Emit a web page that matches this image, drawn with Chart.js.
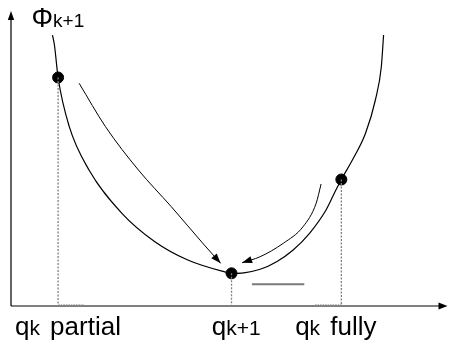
<!DOCTYPE html>
<html><head><meta charset="utf-8">
<script src="https://cdn.jsdelivr.net/npm/chart.js@4"></script>
<style>html,body{margin:0;padding:0;background:#fff}#wrap{width:454px;height:341px}</style>
</head><body><div id="wrap"><canvas id="c" width="454" height="341"></canvas></div>
<script>
// Main U-shaped curve (q on x, Φ on y, arbitrary units 0..10)
const curveX = [0.950, 0.995, 1.079, 1.335, 1.787, 2.541, 3.296, 4.050, 4.880, 5.052, 5.333, 5.708, 6.086, 6.464, 6.839, 7.217, 7.443, 7.568, 7.821, 8.122, 8.348, 8.484, 8.536];
const curveY = [9.186, 8.847, 7.746, 6.078, 4.610, 3.142, 2.180, 1.559, 1.163, 1.108, 1.125, 1.244, 1.502, 1.898, 2.464, 3.254, 3.932, 4.288, 4.949, 5.854, 6.983, 8.112, 9.186];
// Marked points: q_k partial, q_k+1, q_k fully
const markerX = [1.079, 5.052, 7.568];
const markerY = [7.746, 1.108, 4.288];
// Curved arrows (left: tip is last point; right: tip is first point)
const leftArrowX = [1.561, 2.165, 2.919, 3.672, 4.428, 4.803];
const leftArrowY = [7.549, 6.078, 4.610, 3.366, 2.068, 1.447];
const rightArrowX = [5.294, 5.708, 6.237, 6.690, 6.991, 7.104];
const rightArrowY = [1.468, 1.671, 2.125, 2.688, 3.481, 4.136];
// Short horizontal segment
const flatLineX = [5.520, 6.719];
const flatLineY = [0.736, 0.736];
// Short dotted marks on the q axis
const axisMarkAX = [1.086, 1.674];
const axisMarkBX = [6.968, 7.579];
// Text labels
const labelX = [0.09, 4.60, 6.51, 0.47];
const labelY = [-0.98, -0.98, -0.98, 9.45];
const labelMain = ['q', 'q', 'q', 'Φ'];
const labelSub = ['k', 'k+1', 'k', 'k+1'];
const labelTail = [' partial', '', ' fully', ''];

const pts = (xs, ys) => xs.map((x, i) => ({x, y: ys[i]}));
const FONT = '"Liberation Sans", Arial, sans-serif';

const dotted = [];
markerX.forEach((x, i) => dotted.push({
  data: [{x, y: markerY[i]}, {x, y: 0}],
  showLine: true, borderColor: '#808080', borderWidth: 1.3, borderDash: [2, 1.5],
  pointRadius: 0, tension: 0
}));
[axisMarkAX, axisMarkBX].forEach(xs => dotted.push({
  data: [{x: xs[0], y: 0.04}, {x: xs[1], y: 0.04}],
  showLine: true, borderColor: '#9a9a9a', borderWidth: 1, borderDash: [1.5, 1],
  pointRadius: 0, tension: 0
}));

const datasets = [
  ...dotted,
  {data: pts(flatLineX, flatLineY), showLine: true, borderColor: '#7a7a7a', borderWidth: 2, pointRadius: 0, tension: 0},
  {data: pts(curveX, curveY), showLine: true, borderColor: '#000', borderWidth: 1.2, pointRadius: 0, cubicInterpolationMode: 'monotone'},
  {data: pts(leftArrowX, leftArrowY), showLine: true, borderColor: '#000', borderWidth: 1, pointRadius: 0, cubicInterpolationMode: 'monotone', arrow: 'end'},
  {data: pts(rightArrowX, rightArrowY), showLine: true, borderColor: '#000', borderWidth: 1, pointRadius: 0, cubicInterpolationMode: 'monotone', arrow: 'start'},
  {data: pts(markerX, markerY), showLine: false, pointRadius: 5.5, pointBackgroundColor: '#000', pointBorderColor: '#000', pointBorderWidth: 1}
];

function tri(ctx, tx, ty, fx, fy, len, hw) {
  const dx = tx - fx, dy = ty - fy, d = Math.hypot(dx, dy) || 1;
  const ux = dx / d, uy = dy / d;
  const bx = tx - ux * len, by = ty - uy * len;
  ctx.beginPath();
  ctx.moveTo(tx, ty);
  ctx.lineTo(bx - uy * hw, by + ux * hw);
  ctx.lineTo(bx + uy * hw, by - ux * hw);
  ctx.closePath();
  ctx.fill();
}

const deco = {
  id: 'deco',
  beforeDatasetsDraw(chart) {
    const {ctx, chartArea: a} = chart;
    ctx.save();
    ctx.strokeStyle = '#000'; ctx.fillStyle = '#000'; ctx.lineWidth = 1.2;
    ctx.beginPath();
    ctx.moveTo(a.left, a.bottom); ctx.lineTo(a.right - 6, a.bottom);
    ctx.moveTo(a.left, a.bottom); ctx.lineTo(a.left, a.top + 6);
    ctx.stroke();
    tri(ctx, a.right, a.bottom, a.left, a.bottom, 9, 3.5);
    tri(ctx, a.left, a.top, a.left, a.bottom, 9, 3.2);
    ctx.restore();
  },
  afterDatasetsDraw(chart) {
    const {ctx} = chart;
    const xs = chart.scales.x, ys = chart.scales.y;
    ctx.save();
    ctx.fillStyle = '#000';
    chart.data.datasets.forEach((ds, i) => {
      if (!ds.arrow) return;
      const els = chart.getDatasetMeta(i).data;
      let tip, fx, fy, nb;
      if (ds.arrow === 'end') { tip = els[els.length - 1]; fx = tip.cp1x; fy = tip.cp1y; nb = els[els.length - 2]; }
      else { tip = els[0]; fx = tip.cp2x; fy = tip.cp2y; nb = els[1]; }
      if (fx === undefined || Math.hypot(fx - tip.x, fy - tip.y) < 1) { fx = nb.x; fy = nb.y; }
      tri(ctx, tip.x, tip.y, fx, fy, 10, 3.6);
    });
    ctx.textBaseline = 'alphabetic';
    ctx.textAlign = 'left';
    labelX.forEach((lx, i) => {
      let x = xs.getPixelForValue(lx);
      const y = ys.getPixelForValue(labelY[i]);
      const isPhi = labelMain[i] === 'Φ';
      const big = isPhi ? 27 : 26;
      const small = isPhi ? 19 : 21;
      ctx.font = big + 'px ' + FONT;
      ctx.fillText(labelMain[i], x, y);
      x += ctx.measureText(labelMain[i]).width;
      ctx.font = small + 'px ' + FONT;
      ctx.fillText(labelSub[i], x, y);
      x += ctx.measureText(labelSub[i]).width;
      if (labelTail[i]) {
        ctx.font = big + 'px ' + FONT;
        ctx.fillText(labelTail[i], x + 3, y);
      }
    });
    ctx.restore();
  }
};

new Chart(document.getElementById('c'), {
  type: 'scatter',
  data: {datasets},
  options: {
    responsive: false, animation: false, devicePixelRatio: 1,
    layout: {padding: {left: 11, top: 11, right: 1, bottom: 35}},
    scales: {
      x: {type: 'linear', min: 0, max: 10, display: false},
      y: {type: 'linear', min: 0, max: 10, display: false}
    },
    plugins: {legend: {display: false}, tooltip: {enabled: false}},
    elements: {line: {fill: false}}
  },
  plugins: [deco]
});
</script></body></html>
